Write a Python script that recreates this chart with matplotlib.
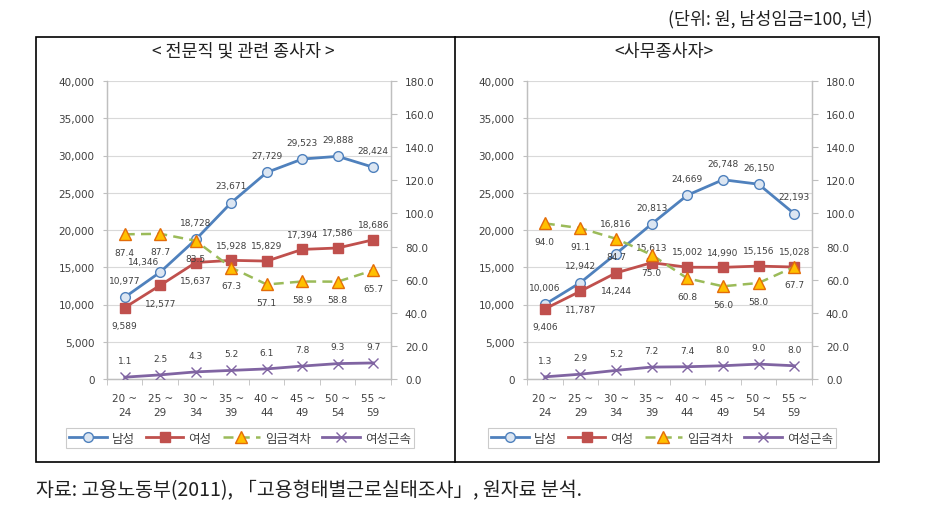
import matplotlib
matplotlib.use("Agg")
import matplotlib.pyplot as plt
from matplotlib.patches import Rectangle
from matplotlib.lines import Line2D
from matplotlib.ticker import FuncFormatter, FixedLocator

plt.rcParams['font.family'] = ['DejaVu Sans', 'Noto Sans CJK KR']
KR = ['Noto Sans CJK KR', 'DejaVu Sans']

categories = ["20 ~\n24", "25 ~\n29", "30 ~\n34", "35 ~\n39", "40 ~\n44", "45 ~\n49", "50 ~\n54", "55 ~\n59"]
series_names = ["남성", "여성", "임금격차", "여성근속"]

title_left = "< 전문직 및 관련 종사자 >"
male_left = [10977, 14346, 18728, 23671, 27729, 29523, 29888, 28424]
female_left = [9589, 12577, 15637, 15928, 15829, 17394, 17586, 18686]
gap_left = [87.4, 87.7, 83.5, 67.3, 57.1, 58.9, 58.8, 65.7]
tenure_left = [1.1, 2.5, 4.3, 5.2, 6.1, 7.8, 9.3, 9.7]

title_right = "<사무종사자>"
male_right = [10006, 12942, 16816, 20813, 24669, 26748, 26150, 22193]
female_right = [9406, 11787, 14244, 15613, 15002, 14990, 15156, 15028]
gap_right = [94.0, 91.1, 84.7, 75.0, 60.8, 56.0, 58.0, 67.7]
tenure_right = [1.3, 2.9, 5.2, 7.2, 7.4, 8.0, 9.0, 8.0]

unit_text = "(단위: 원, 남성임금=100, 년)"
source_text = "자료: 고용노동부(2011), 「고용형태별근로실태조사」, 원자료 분석."

W, H = 929, 510
fig = plt.figure(figsize=(W / 100, H / 100), dpi=100)
fig.patch.set_facecolor('white')


def fx(px):
    return px / W


def fy(py):
    return 1 - py / H


C_MALE = '#4F81BD'
C_FEMALE = '#C0504D'
C_GAP = '#9BBB59'
C_TEN = '#8064A2'
C_TXT = '#404040'
C_AX = '#BFBFBF'


def draw_chart(x0, x1, y0, y1, title, title_x, male, female, gap, tenure,
               female_above, male_off, legend_x):
    ax = fig.add_axes([fx(x0), fy(y1), fx(x1) - fx(x0), fy(y0) - fy(y1)])
    ax2 = ax.twinx()
    xs = list(range(len(categories)))
    ax.set_xlim(-0.5, len(categories) - 0.5)
    ax.set_ylim(0, 40000)
    ax2.set_ylim(0, 180)
    ax.set_yticks(range(0, 40001, 5000))
    ax2.set_yticks(range(0, 181, 20))
    ax.yaxis.set_major_formatter(FuncFormatter(lambda v, p: f"{int(v):,}"))
    ax2.yaxis.set_major_formatter(FuncFormatter(lambda v, p: f"{v:.1f}"))
    ax.set_xticks(xs)
    ax.set_xticklabels(categories, fontsize=7.5, color=C_TXT, linespacing=1.55)
    ax.xaxis.set_minor_locator(FixedLocator([i - 0.5 for i in range(len(categories) + 1)]))
    ax.tick_params(axis='x', which='major', length=0, pad=10)
    ax.tick_params(axis='x', which='minor', length=4, color=C_AX, direction='out')
    ax.tick_params(axis='y', labelsize=7.5, labelcolor=C_TXT, length=3, color=C_AX, pad=6)
    ax2.tick_params(axis='y', labelsize=7.5, labelcolor=C_TXT, length=4, color=C_AX, pad=6)
    ax.grid(axis='y', color='#D9D9D9', lw=0.8)
    ax.set_axisbelow(True)
    for a in (ax, ax2):
        a.spines['top'].set_visible(False)
        for s in ('left', 'right', 'bottom'):
            a.spines[s].set_color(C_AX)
            a.spines[s].set_linewidth(0.9)

    lm, = ax.plot(xs, male, color=C_MALE, lw=2, marker='o', ms=7,
                  mfc='#DCE6F2', mec=C_MALE, mew=1.0, zorder=3)
    lf, = ax.plot(xs, female, color=C_FEMALE, lw=2, marker='s', ms=7,
                  mfc=C_FEMALE, mec=C_FEMALE, zorder=3)
    lg, = ax2.plot(xs, gap, color=C_GAP, lw=1.8, ls=(0, (4, 2.5)), marker='^', ms=8,
                   mfc='#FFC000', mec='#E36C09', mew=1.0, zorder=3)
    lt, = ax2.plot(xs, tenure, color=C_TEN, lw=2, marker='x', ms=7, mew=1.0,
                   mec=C_TEN, zorder=3)

    fs = 6.5
    for i, v in enumerate(male):
        dx, dy = male_off.get(i, (0, 0))
        ax.annotate(f"{v:,}", (i, v), xytext=(dx, 12 + dy), textcoords='offset points',
                    ha='center', va='center', fontsize=fs, color=C_TXT)
    for i, v in enumerate(female):
        off = 11 if i in female_above else -13
        ax.annotate(f"{v:,}", (i, v), xytext=(0, off), textcoords='offset points',
                    ha='center', va='center', fontsize=fs, color=C_TXT)
    for i, v in enumerate(gap):
        ax2.annotate(f"{v:.1f}", (i, v), xytext=(0, -13), textcoords='offset points',
                     ha='center', va='center', fontsize=fs, color=C_TXT)
    for i, v in enumerate(tenure):
        ax2.annotate(f"{v:.1f}", (i, v), xytext=(0, 12), textcoords='offset points',
                     ha='center', va='center', fontsize=fs, color=C_TXT)

    fig.text(fx(title_x), fy(52), title, ha='center', va='center', fontsize=12.5,
             color='#202020', family=KR)

    leg = fig.legend([lm, lf, lg, lt], series_names, loc='center',
                     bbox_to_anchor=(fx(legend_x), fy(439)), ncol=4,
                     prop={'family': KR, 'size': 9},
                     frameon=True, fancybox=False, edgecolor='#BFBFBF',
                     handlelength=3.0, handletextpad=0.4, columnspacing=0.9,
                     borderpad=0.25, labelcolor=C_TXT)
    leg.get_frame().set_linewidth(0.8)
    return ax


draw_chart(107, 391, 82, 380, title_left, 243, male_left, female_left, gap_left,
           tenure_left, female_above={3, 4, 5, 6, 7}, male_off={1: (-12, -4)}, legend_x=240)
draw_chart(527, 812, 82, 380, title_right, 664, male_right, female_right, gap_right,
           tenure_right, female_above={3, 4, 5, 6, 7}, male_off={2: (0, 10)}, legend_x=662)

# table frame
fig.add_artist(Rectangle((fx(36), fy(463)), fx(879) - fx(36), fy(38) - fy(463),
                         transform=fig.transFigure, fill=False, ec='black', lw=1.2))
fig.add_artist(Line2D([fx(455), fx(455)], [fy(38), fy(463)], transform=fig.transFigure,
                      color='black', lw=1.2))

fig.text(fx(873), fy(19), unit_text, ha='right', va='center', fontsize=12.5,
         color='#202020', family=KR)
fig.text(fx(36), fy(491), source_text, ha='left', va='center', fontsize=14,
         color='#202020', family=KR)

fig.savefig('out.png', dpi=100)
